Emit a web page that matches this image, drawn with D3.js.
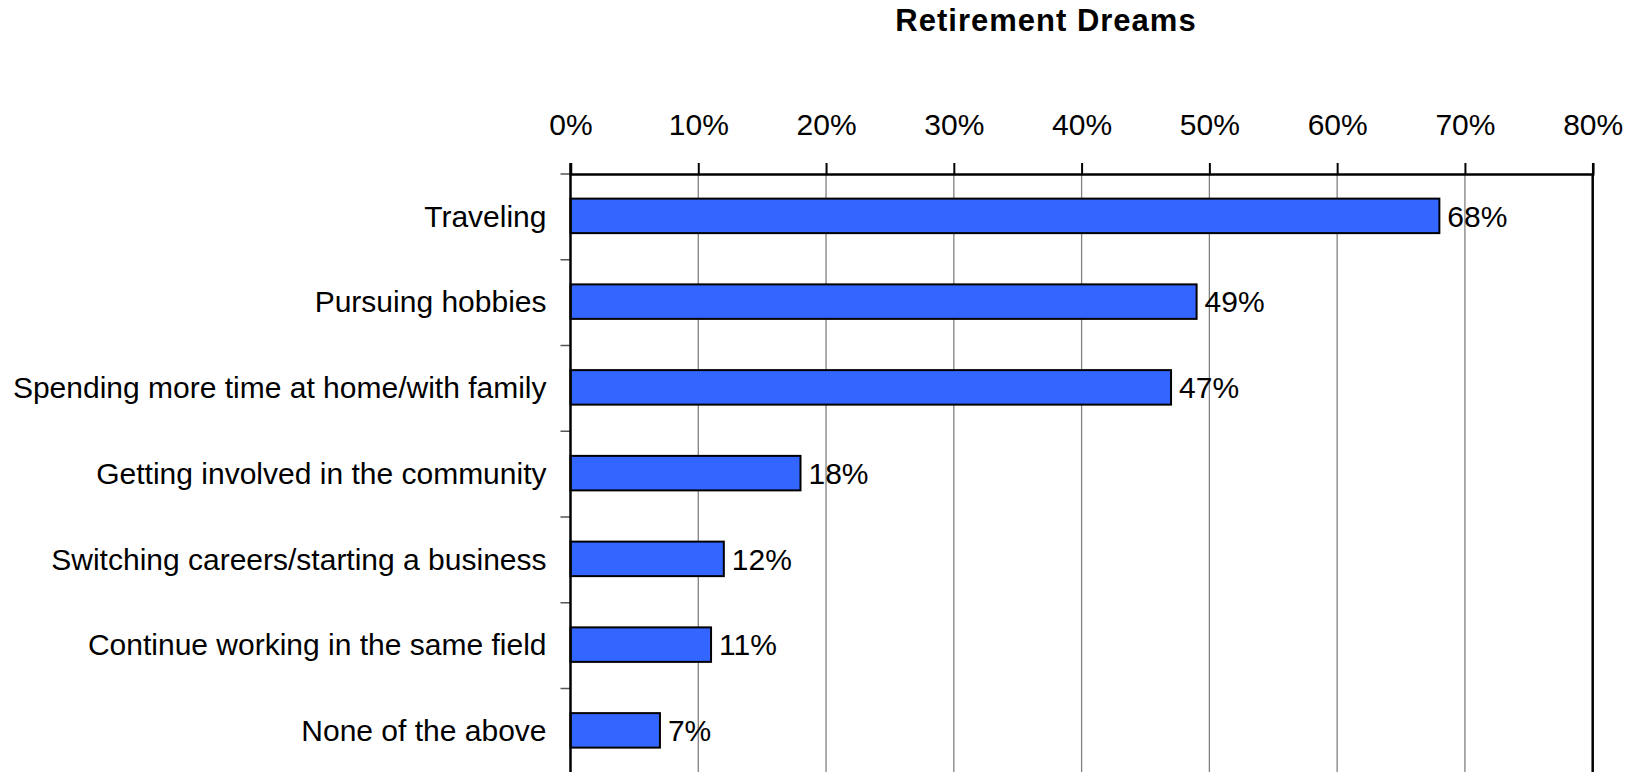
<!DOCTYPE html>
<html>
<head>
<meta charset="utf-8">
<script src="https://cdn.jsdelivr.net/npm/d3@7"></script>
<style>
  html, body { margin: 0; padding: 0; background: #ffffff; }
  svg { display: block; }
  text { font-family: "Liberation Sans", Arial, sans-serif; fill: #000; }
</style>
</head>
<body>
<script>
const titleText = "Retirement Dreams";
const categories = [
  "Traveling",
  "Pursuing hobbies",
  "Spending more time at home/with family",
  "Getting involved in the community",
  "Switching careers/starting a business",
  "Continue working in the same field",
  "None of the above"
];
const values = [0.68, 0.49, 0.47, 0.18, 0.12, 0.11, 0.07];
const tickValues = [0, 0.1, 0.2, 0.3, 0.4, 0.5, 0.6, 0.7, 0.8];

const W = 1630, H = 772;
const plotLeft = 570.5, plotRight = 1592.7, plotTop = 174, step = 85.75;
const barH = 34.5;
const fs = "30px";

const svg = d3.select("body").append("svg")
  .attr("width", W).attr("height", H);
svg.append("rect").attr("width", W).attr("height", H).attr("fill", "#fff");

const x = d3.scaleLinear().domain([0, 0.8]).range([plotLeft, plotRight]);
const y = d3.scaleBand().domain(categories)
  .range([plotTop, plotTop + step * categories.length]).padding(0);

// gridlines
svg.append("g").selectAll("line")
  .data(tickValues.filter(d => d > 0))
  .join("line")
  .attr("x1", d => x(d)).attr("x2", d => x(d))
  .attr("y1", plotTop).attr("y2", H)
  .attr("stroke", d => d === 0.8 ? "#000" : "#808080")
  .attr("stroke-width", d => d === 0.8 ? 2.5 : 1.3);

// category ticks at band boundaries
const bounds = categories.map(c => y(c)).concat([y(categories[categories.length - 1]) + y.step()]);
svg.append("g").selectAll("line")
  .data(bounds)
  .join("line")
  .attr("x1", plotLeft - 10).attr("x2", plotLeft)
  .attr("y1", d => d).attr("y2", d => d)
  .attr("stroke", "#555").attr("stroke-width", 1.5);

// bars
svg.append("g").selectAll("rect")
  .data(values)
  .join("rect")
  .attr("x", x(0))
  .attr("y", (d, i) => y(categories[i]) + y.step() / 2 - barH / 2 - 1)
  .attr("width", d => x(d) - x(0))
  .attr("height", barH)
  .attr("fill", "#3366FF")
  .attr("stroke", "#000")
  .attr("stroke-width", 2);

// value labels
svg.append("g").selectAll("text")
  .data(values)
  .join("text")
  .attr("x", d => x(d) + 8)
  .attr("y", (d, i) => y(categories[i]) + y.step() / 2 + 9.7)
  .attr("font-size", fs)
  .text(d => Math.round(d * 100) + "%");

// category labels
svg.append("g").selectAll("text")
  .data(categories)
  .join("text")
  .attr("x", 546.5)
  .attr("y", d => y(d) + y.step() / 2 + 9.7)
  .attr("text-anchor", "end")
  .attr("font-size", fs)
  .text(d => d);

// top axis
const axis = d3.axisTop(x)
  .tickValues(tickValues)
  .tickFormat(d3.format(".0%"))
  .tickSize(11)
  .tickPadding(28);
const ag = svg.append("g").attr("transform", `translate(0,${plotTop})`).call(axis);
ag.select(".domain").attr("stroke", "#000").attr("stroke-width", 2.5);
ag.selectAll(".tick line").attr("stroke", "#000").attr("stroke-width", 2);
ag.selectAll(".tick text")
  .attr("font-family", "Liberation Sans, Arial, sans-serif")
  .attr("font-size", fs)
  .attr("fill", "#000");

// left axis line
svg.append("line")
  .attr("x1", plotLeft).attr("x2", plotLeft)
  .attr("y1", plotTop - 11).attr("y2", H)
  .attr("stroke", "#000").attr("stroke-width", 2.5);

// title
svg.append("text")
  .attr("x", 1046)
  .attr("y", 31)
  .attr("text-anchor", "middle")
  .attr("font-size", "31px")
  .attr("font-weight", "bold")
  .attr("letter-spacing", "1px")
  .text(titleText);
</script>
</body>
</html>
